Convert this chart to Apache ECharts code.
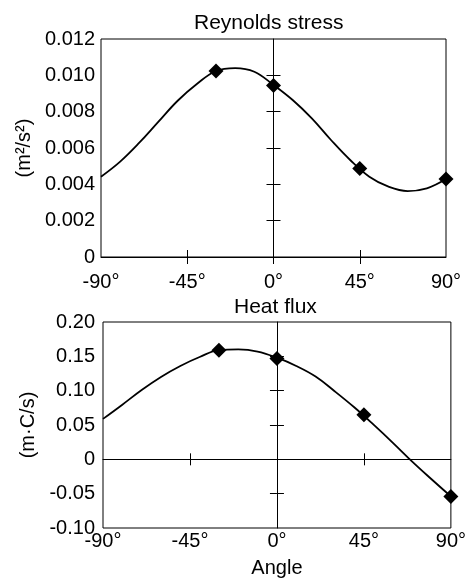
<!DOCTYPE html>
<html>
<head>
<meta charset="utf-8">
<script src="https://cdn.jsdelivr.net/npm/echarts@6/dist/echarts.min.js"></script>
<style>
  html, body { margin: 0; padding: 0; background: #fff; }
  #chart { width: 469px; height: 579px; }
</style>
</head>
<body>
<div id="chart"></div>
<script>
// fitted curves, every 10 degrees
const curveAngles = [-90, -80, -70, -60, -50, -40, -30, -20, -10, 0, 10, 20, 30, 40, 50, 60, 70, 80, 90];
const stressCurve = [0.00442, 0.00525, 0.00629, 0.00745, 0.0086, 0.00952, 0.01024, 0.0104, 0.0102, 0.00947,
    0.00864, 0.00763, 0.00644, 0.00534, 0.00442, 0.00387, 0.00363, 0.00378, 0.00429];
const heatCurve = [0.0589, 0.0796, 0.101, 0.120, 0.136, 0.149, 0.159, 0.160, 0.157, 0.148,
    0.136, 0.1206, 0.0989, 0.0758, 0.0505, 0.0241, -0.0033, -0.029, -0.054];

// measured points (diamonds)
const pointAngles = [-30, 0, 45, 90];
const stressPoints = [0.01024, 0.00944, 0.00487, 0.00429];
const heatPoints = [0.159, 0.147, 0.065, -0.054];

const xTicks = [-45, 0, 45];
const stressTicks = [0.002, 0.004, 0.006, 0.008, 0.010];
const heatTicks = [-0.05, 0.05, 0.10, 0.15];

const font = 'Liberation Sans';
const pairs = (xs, ys) => xs.map((x, i) => [x, ys[i]]);

const myChart = echarts.init(document.getElementById('chart'));

const hiddenLabel = {show: false};
const noSplit = {show: false};
const blackLine = {lineStyle: {color: '#000', width: 1}};
const titleStyle = {fontFamily: font, fontSize: 21, fontWeight: 'normal', color: '#000'};

myChart.setOption({
    animation: false,
    backgroundColor: '#fff',
    textStyle: {fontFamily: font, color: '#000'},
    title: [
        {text: 'Reynolds stress', left: 189, top: 8, textStyle: titleStyle},
        {text: 'Heat flux', left: 229, top: 292, textStyle: titleStyle}
    ],
    grid: [
        {left: 101, top: 39, width: 345, height: 218, show: true, borderColor: '#000', borderWidth: 1, containLabel: false},
        {left: 103, top: 322, width: 349, height: 208, show: true, borderColor: '#000', borderWidth: 1, containLabel: false}
    ],
    xAxis: [
        // top chart: labels + ticks pointing down
        {
            gridIndex: 0, type: 'value', min: -90, max: 90, interval: 45, position: 'bottom',
            axisLine: {show: true, onZero: false, ...blackLine},
            axisTick: {show: true, inside: false, length: 7, customValues: xTicks, ...blackLine},
            axisLabel: {margin: 15, fontSize: 20, color: '#000', fontFamily: font, formatter: '{value}°'},
            splitLine: noSplit
        },
        // top chart: ticks pointing up
        {
            gridIndex: 0, type: 'value', min: -90, max: 90, interval: 45, position: 'bottom',
            axisLine: {show: false, onZero: false},
            axisTick: {show: true, inside: true, length: 7, customValues: [-45, 45], ...blackLine},
            axisLabel: hiddenLabel, splitLine: noSplit
        },
        // bottom chart: labels at the frame
        {
            gridIndex: 1, type: 'value', min: -90, max: 90, interval: 45, position: 'bottom',
            axisLine: {show: false, onZero: false},
            axisTick: {show: false},
            axisLabel: {margin: 3, fontSize: 20, color: '#000', fontFamily: font, formatter: '{value}°'},
            name: 'Angle', nameLocation: 'middle', nameGap: 30,
            nameTextStyle: {fontSize: 20, color: '#000', fontFamily: font},
            splitLine: noSplit
        },
        // bottom chart: zero line, ticks down
        {
            gridIndex: 1, type: 'value', min: -90, max: 90, interval: 45, position: 'bottom',
            axisLine: {show: true, onZero: true, ...blackLine},
            axisTick: {show: true, inside: false, length: 6, customValues: [-45, 45], ...blackLine},
            axisLabel: hiddenLabel, splitLine: noSplit
        },
        // bottom chart: zero line, ticks up
        {
            gridIndex: 1, type: 'value', min: -90, max: 90, interval: 45, position: 'bottom',
            axisLine: {show: false, onZero: true},
            axisTick: {show: true, inside: true, length: 6, customValues: [-45, 45], ...blackLine},
            axisLabel: hiddenLabel, splitLine: noSplit
        }
    ],
    yAxis: [
        {
            gridIndex: 0, type: 'value', min: 0, max: 0.012, interval: 0.002, position: 'left',
            axisLine: {show: false, onZero: false},
            axisTick: {show: false},
            axisLabel: {
                margin: 6, fontSize: 20, color: '#000', fontFamily: font,
                formatter: v => Math.abs(v) < 1e-9 ? '0' : v.toFixed(3)
            },
            name: '(m²/s²)', nameLocation: 'middle', nameRotate: 90, nameGap: 60,
            nameTextStyle: {fontSize: 20, color: '#000', fontFamily: font},
            splitLine: noSplit
        },
        {
            gridIndex: 0, type: 'value', min: 0, max: 0.012, interval: 0.002, position: 'left',
            axisLine: {show: true, onZero: true, ...blackLine},
            axisTick: {show: true, inside: false, length: 7, customValues: stressTicks, ...blackLine},
            axisLabel: hiddenLabel, splitLine: noSplit
        },
        {
            gridIndex: 0, type: 'value', min: 0, max: 0.012, interval: 0.002, position: 'left',
            axisLine: {show: false, onZero: true},
            axisTick: {show: true, inside: true, length: 7, customValues: stressTicks, ...blackLine},
            axisLabel: hiddenLabel, splitLine: noSplit
        },
        {
            gridIndex: 1, type: 'value', min: -0.1, max: 0.2, interval: 0.05, position: 'left',
            axisLine: {show: false, onZero: false},
            axisTick: {show: false},
            axisLabel: {
                margin: 8, fontSize: 20, color: '#000', fontFamily: font,
                formatter: v => Math.abs(v) < 1e-9 ? '0' : v.toFixed(2)
            },
            name: '(m·C/s)', nameLocation: 'middle', nameRotate: 90, nameGap: 59,
            nameTextStyle: {fontSize: 20, color: '#000', fontFamily: font},
            splitLine: noSplit
        },
        {
            gridIndex: 1, type: 'value', min: -0.1, max: 0.2, interval: 0.05, position: 'left',
            axisLine: {show: true, onZero: true, ...blackLine},
            axisTick: {show: true, inside: false, length: 7, customValues: heatTicks, ...blackLine},
            axisLabel: hiddenLabel, splitLine: noSplit
        },
        {
            gridIndex: 1, type: 'value', min: -0.1, max: 0.2, interval: 0.05, position: 'left',
            axisLine: {show: false, onZero: true},
            axisTick: {show: true, inside: true, length: 7, customValues: heatTicks, ...blackLine},
            axisLabel: hiddenLabel, splitLine: noSplit
        }
    ],
    series: [
        {
            type: 'line', xAxisIndex: 0, yAxisIndex: 0, smooth: 0.4, symbol: 'none',
            lineStyle: {color: '#000', width: 1.8},
            data: pairs(curveAngles, stressCurve)
        },
        {
            type: 'scatter', xAxisIndex: 0, yAxisIndex: 0, symbol: 'diamond', symbolSize: 15, clip: false,
            itemStyle: {color: '#000', opacity: 1},
            data: pairs(pointAngles, stressPoints)
        },
        {
            type: 'line', xAxisIndex: 2, yAxisIndex: 3, smooth: 0.4, symbol: 'none',
            lineStyle: {color: '#000', width: 1.8},
            data: pairs(curveAngles, heatCurve)
        },
        {
            type: 'scatter', xAxisIndex: 2, yAxisIndex: 3, symbol: 'diamond', symbolSize: 15, clip: false,
            itemStyle: {color: '#000', opacity: 1},
            data: pairs(pointAngles, heatPoints)
        }
    ]
});
</script>
</body>
</html>
